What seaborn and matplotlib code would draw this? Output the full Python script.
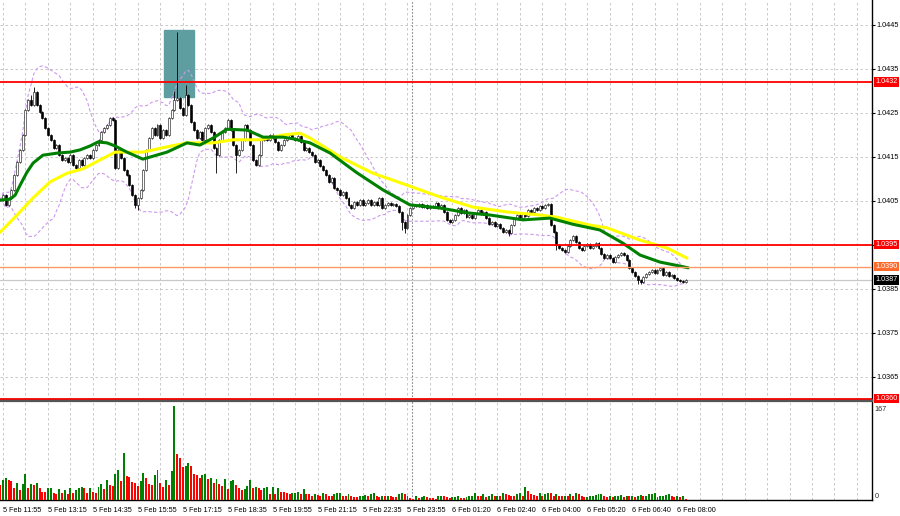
import numpy as np
import pandas as pd
import matplotlib
matplotlib.use("Agg")
import matplotlib.pyplot as plt
import matplotlib.transforms as mtransforms
import seaborn as sns

# 5-minute closes, bar -1 = 5 Feb 11:50, bar 0 = 11:55
closes = [
    1.04051, 1.04062, 1.04040, 1.04056, 1.04074, 1.04108, 1.04137, 1.04165, 1.04199, 1.04256,
    1.04278, 1.04267, 1.04297, 1.04267, 1.04251, 1.04237, 1.04215, 1.04199, 1.04188, 1.04169,
    1.04176, 1.04153, 1.04142, 1.04147, 1.04137, 1.04153, 1.04131, 1.04124, 1.04142, 1.04131,
    1.04147, 1.04153, 1.04147, 1.04165, 1.04176, 1.04188, 1.04206, 1.04215, 1.04222, 1.04237,
    1.04233, 1.04124, 1.04165, 1.04147, 1.04119, 1.04108, 1.04085, 1.04062, 1.04040, 1.04056,
    1.04074, 1.04119, 1.04165, 1.04192, 1.04215, 1.04199, 1.04222, 1.04192, 1.04210, 1.04199,
    1.04237, 1.04256, 1.04278, 1.04283, 1.04260, 1.04244, 1.04290, 1.04267, 1.04228, 1.04210,
    1.04192, 1.04206, 1.04188, 1.04215, 1.04222, 1.04206, 1.04169, 1.04153, 1.04188, 1.04206,
    1.04215, 1.04233, 1.04210, 1.04176, 1.04153, 1.04165, 1.04188, 1.04222, 1.04210, 1.04176,
    1.04142, 1.04131, 1.04153, 1.04188, 1.04192, 1.04188, 1.04199, 1.04192, 1.04183, 1.04165,
    1.04176, 1.04188, 1.04192, 1.04199, 1.04192, 1.04188, 1.04197, 1.04183, 1.04165, 1.04169,
    1.04160, 1.04153, 1.04137, 1.04142, 1.04128, 1.04119, 1.04108, 1.04092, 1.04101, 1.04078,
    1.04074, 1.04062, 1.04069, 1.04056, 1.04040, 1.04033, 1.04047, 1.04040, 1.04051, 1.04040,
    1.04044, 1.04051, 1.04040, 1.04047, 1.04040, 1.04056, 1.04033, 1.04040, 1.04044, 1.04040,
    1.04042, 1.04038, 1.04024, 1.04001, 1.03988, 1.04017, 1.04033, 1.04040, 1.04038, 1.04042,
    1.04035, 1.04040, 1.04033, 1.04038, 1.04035, 1.04044, 1.04033, 1.04040, 1.04024, 1.04006,
    1.04001, 1.04006, 1.04017, 1.04033, 1.04022, 1.04028, 1.04012, 1.04017, 1.04010, 1.04022,
    1.04028, 1.04019, 1.04024, 1.04010, 1.03997, 1.04001, 1.03992, 1.03997, 1.03988, 1.03978,
    1.03983, 1.03976, 1.03994, 1.04010, 1.04017, 1.04010, 1.04019, 1.04015, 1.04028, 1.04024,
    1.04033, 1.04028, 1.04038, 1.04033, 1.04040, 1.04042, 1.03994, 1.03978, 1.03949, 1.03942,
    1.03938, 1.03933, 1.03947, 1.03960, 1.03969, 1.03956, 1.03942, 1.03938, 1.03947, 1.03951,
    1.03942, 1.03947, 1.03953, 1.03942, 1.03928, 1.03919, 1.03926, 1.03919, 1.03910, 1.03922,
    1.03926, 1.03931, 1.03926, 1.03915, 1.03897, 1.03888, 1.03878, 1.03870, 1.03865, 1.03876,
    1.03883, 1.03888, 1.03892, 1.03885, 1.03892, 1.03897, 1.03881, 1.03888, 1.03878, 1.03881,
    1.03874, 1.03870, 1.03867, 1.03865, 1.03870,
]

volumes = [
    26, 35, 39, 35, 34, 21, 31, 17, 28, 47, 21, 29, 26, 31, 22, 15, 14, 21, 22, 12,
    11, 20, 13, 18, 10, 21, 13, 17, 22, 23, 21, 13, 22, 14, 13, 23, 28, 20, 36, 26,
    25, 46, 54, 34, 84, 42, 41, 32, 30, 25, 33, 48, 40, 28, 27, 45, 54, 31, 23, 35,
    26, 51, 167, 82, 74, 58, 60, 66, 60, 46, 45, 39, 44, 46, 38, 40, 31, 38, 29, 25,
    38, 20, 33, 35, 26, 21, 18, 19, 25, 35, 21, 24, 21, 17, 21, 23, 11, 24, 11, 21,
    15, 14, 13, 10, 12, 13, 14, 10, 20, 11, 10, 8, 10, 9, 8, 12, 10, 8, 7, 10,
    12, 13, 8, 7, 11, 7, 6, 5, 7, 8, 9, 7, 11, 12, 7, 6, 8, 7, 8, 7,
    6, 5, 11, 13, 10, 7, 4, 2, 7, 4, 6, 8, 5, 4, 3, 2, 7, 8, 7, 6,
    4, 5, 6, 7, 4, 3, 6, 7, 8, 12, 8, 7, 10, 6, 7, 10, 7, 8, 7, 12,
    10, 9, 8, 7, 10, 12, 8, 23, 16, 10, 9, 8, 12, 7, 10, 13, 12, 8, 10, 8,
    7, 8, 7, 10, 8, 13, 10, 7, 5, 6, 7, 8, 9, 10, 11, 7, 6, 7, 6, 7,
    8, 9, 6, 8, 7, 8, 6, 8, 9, 7, 8, 10, 11, 12, 6, 7, 8, 9, 10, 7,
    6, 7, 6, 8, 2,
]

# wick extremes that stand out on the chart
high_marks = {11: 1.04309, 61: 1.04300, 62: 1.04434, 65: 1.04313, 10: 1.04290}
low_marks = {48: 1.04028, 47: 1.04033, 76: 1.04112, 83: 1.04112, 143: 1.03976,
             142: 1.03983, 180: 1.03969, 197: 1.03938, 226: 1.03860, 227: 1.03860}

# moving averages (bar index, price)
ma_green_bar = [-1, 2.5, 4.3, 6.1, 8.5, 10.7, 14.2, 19.6, 23.9, 27.4, 31, 33.8, 37, 39.9,
                44.1, 49.8, 58.4, 65.5, 70.1, 74.8, 79.7, 86.9, 92.6, 99.7, 103.5, 109.3,
                116.4, 126, 135.3, 144.9, 155.6, 165.2, 173.4, 185.1, 194.7, 202.9, 212.5,
                220.7, 226.8, 233.9, 241, 243.9]
ma_green = [1.04051, 1.04053, 1.04062, 1.04085, 1.04114, 1.04135, 1.04153, 1.04158,
            1.04160, 1.04165, 1.04174, 1.04183, 1.04181, 1.04174, 1.04160, 1.04144,
            1.04160, 1.04181, 1.04176, 1.04192, 1.04212, 1.04210, 1.04194, 1.04194,
            1.04190, 1.04181, 1.04158, 1.04113, 1.04074, 1.04040, 1.04033, 1.04022,
            1.04017, 1.04006, 1.04010, 1.03996, 1.03983, 1.03953, 1.03926, 1.03910,
            1.03901, 1.03897]
ma_yellow_bar = [-1, 5, 10.7, 16.7, 22.8, 28.5, 34.5, 39.9, 49.8, 58.4, 65.5, 74.8, 81.9,
                 91.5, 99.7, 105.7, 109.3, 120, 131.7, 143.8, 155.6, 167.3, 179.4, 191.2,
                 197.2, 209, 215, 226.8, 236.4, 243.5]
ma_yellow = [1.03978, 1.04017, 1.04056, 1.04092, 1.04112, 1.04122, 1.04142, 1.04160,
             1.04160, 1.04172, 1.04181, 1.04181, 1.04188, 1.04188, 1.04199, 1.04203,
             1.04192, 1.04149, 1.04112, 1.04085, 1.04058, 1.04035, 1.04024, 1.04017,
             1.04012, 1.03994, 1.03988, 1.03960, 1.03942, 1.03919]

levels = [1.0432, 1.0395, 1.0360]
level_soft = 1.0390
last_price = 1.0387
zone_bars = (57.3, 68.0)
zone_prices = (1.04285, 1.04438)
price_ticks = [1.0445, 1.0435, 1.0425, 1.0415, 1.0405, 1.0395, 1.0385, 1.0375, 1.0365]
time_labels = ["5 Feb 11:55", "5 Feb 13:15", "5 Feb 14:35", "5 Feb 15:55", "5 Feb 17:15",
               "5 Feb 18:35", "5 Feb 19:55", "5 Feb 21:15", "5 Feb 22:35", "5 Feb 23:55",
               "6 Feb 01:20", "6 Feb 02:40", "6 Feb 04:00", "6 Feb 05:20", "6 Feb 06:40",
               "6 Feb 08:00"]
day_break = 145.5

sns.set_style("white")
plt.rcParams['font.family'] = ['Liberation Sans', 'DejaVu Sans']
FS = 5.2

idx = np.arange(-1, len(closes) - 1)
c = np.array(closes)
o = np.concatenate([[closes[0]], c[:-1]])
h = np.maximum(o, c) + 0.00002
l = np.minimum(o, c) - 0.00002
for k, v in high_marks.items():
    h[k + 1] = v
for k, v in low_marks.items():
    l[k + 1] = v

s = pd.Series(c)
mid = s.rolling(20, min_periods=1).mean()
sd = s.rolling(20, min_periods=1).std(ddof=0)
bb_up = (mid + 2 * sd).values
bb_dn = (mid - 2 * sd).values

fig = plt.figure(figsize=(9, 5.16), dpi=100)
ax = fig.add_axes([0, 1 - 400 / 516, 872 / 900, 400 / 516])
axv = fig.add_axes([0, 16 / 516, 872 / 900, 99 / 516])

xlim = (-3 / 2.809, 869 / 2.809)
ax.set_xlim(*xlim)
ax.set_ylim(1.045057 - 400 / 44000, 1.045057)
grid_kw = dict(color='#c0c0c0', linestyle=(0, (3, 3)), linewidth=0.6)

# tick labels that sit under a level tag are left blank (the tag shows the value)
tagged = levels + [level_soft, last_price]
ax.set_xticks(np.arange(0, 310, 8))
ax.set_xticklabels([])
ax.set_yticks(price_ticks)
ax.set_yticklabels(['' if any(abs(t - g) < 1e-6 for g in tagged) else f"{t:.4f}"
                    for t in price_ticks])
ax.yaxis.tick_right()
ax.tick_params(axis='x', length=0)
ax.tick_params(axis='y', length=2, pad=1.5, labelsize=FS, colors='black')
ax.grid(True, **grid_kw)
for side in ['left', 'top']:
    ax.spines[side].set_visible(False)
ax.spines['right'].set_color('black')
ax.spines['right'].set_linewidth(1)
ax.spines['bottom'].set_color('#555555')
ax.spines['bottom'].set_linewidth(1.6)

ax.axvline(day_break, color='#888888', linestyle=(0, (1.5, 1.5)), lw=0.8, zorder=1)

ax.add_patch(plt.Rectangle((zone_bars[0], zone_prices[0]), zone_bars[1] - zone_bars[0],
                           zone_prices[1] - zone_prices[0], color='#5f9ea0', zorder=2))

sns.lineplot(x=idx, y=bb_up, ax=ax, color='#cc99ee', lw=0.8, linestyle=(0, (3, 2)),
             estimator=None, sort=False, zorder=3)
sns.lineplot(x=idx, y=bb_dn, ax=ax, color='#cc99ee', lw=0.8, linestyle=(0, (3, 2)),
             estimator=None, sort=False, zorder=3)

up = c >= o
ax.vlines(idx, l, h, color='black', lw=0.6, zorder=4)
ax.bar(idx[up], np.maximum(c - o, 0.000005)[up], bottom=o[up], width=0.7,
       color='white', edgecolor='#222222', linewidth=0.45, zorder=5)
ax.bar(idx[~up], (c - o)[~up], bottom=o[~up], width=0.7,
       color='black', edgecolor='black', linewidth=0.45, zorder=5)

sns.lineplot(x=ma_yellow_bar, y=ma_yellow, ax=ax, color='#ffff00', lw=2.2,
             estimator=None, sort=False, zorder=6)
sns.lineplot(x=ma_green_bar, y=ma_green, ax=ax, color='#008000', lw=2.2,
             estimator=None, sort=False, zorder=7)
ax.set_xlabel('')
ax.set_ylabel('')

for lv in levels:
    ax.axhline(lv, color='#ff0000', lw=1.3, zorder=8)
ax.axhline(level_soft, color='#ff9966', lw=1.0, zorder=8)
ax.axhline(last_price, color='#c8c8c8', lw=0.9, zorder=1)

tr = mtransforms.blended_transform_factory(ax.transAxes, ax.transData)
def tag(y, fc):
    ax.text(1.0035, y, f"{y:.4f}", transform=tr, ha='left', va='center', fontsize=FS,
            color='white', clip_on=False, zorder=10,
            bbox=dict(boxstyle='square,pad=0.2', fc=fc, ec='none'))
for lv in levels:
    tag(lv, '#ff0000')
tag(level_soft, '#ff6a2a')
tag(last_price, 'black')

# volume panel
vol = np.array(volumes)
vcol = np.where(np.concatenate([[False], vol[1:] > vol[:-1]]), '#008000', '#ff0000')
axv.bar(idx, vol, width=0.7, color=vcol, linewidth=0, zorder=3)
axv.set_xlim(*xlim)
axv.set_ylim(0, 176)
axv.set_xticks(np.arange(0, 256, 16))
axv.set_xticklabels(time_labels)
axv.set_xticks(np.arange(0, 310, 8), minor=True)
axv.tick_params(axis='x', which='major', length=3, pad=2, labelsize=FS, colors='black')
axv.tick_params(axis='x', which='minor', length=0)
for lab in axv.get_xticklabels():
    lab.set_horizontalalignment('left')
axv.grid(True, axis='x', which='both', **grid_kw)
axv.axvline(day_break, color='#888888', linestyle=(0, (1.5, 1.5)), lw=0.8, zorder=1)
axv.set_yticks([0, 167])
axv.set_yticklabels(['0', '167'])
axv.yaxis.tick_right()
axv.tick_params(axis='y', length=0, pad=2, labelsize=FS)
axv.get_yticklabels()[0].set_va('bottom')
axv.get_yticklabels()[1].set_va('top')
axv.spines['left'].set_visible(False)
axv.spines['top'].set_color('#555555')
axv.spines['top'].set_linewidth(1.6)
for side in ['right', 'bottom']:
    axv.spines[side].set_color('black')
    axv.spines[side].set_linewidth(1)

fig.savefig('out.png', dpi=100)
